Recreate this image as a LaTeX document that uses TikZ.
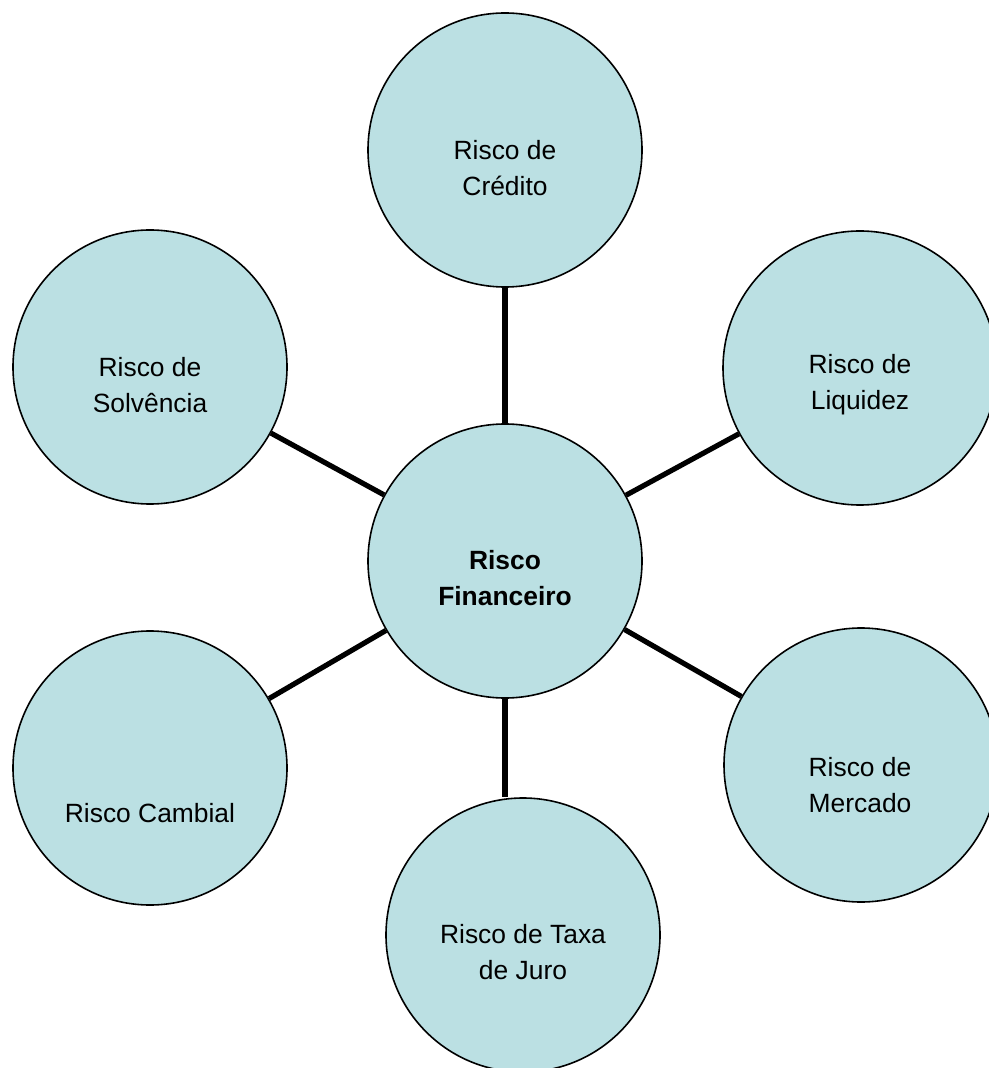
\documentclass[tikz,border=0pt]{standalone}
\usepackage{fontspec}
\setmainfont{Liberation Sans}
\usepackage{tikz}
\usepackage{xcolor}
\definecolor{riskfill}{RGB}{187,224,227}

\begin{document}
\begin{tikzpicture}[x=0.5pt,y=-0.5pt,
        risk/.style={circle,draw=black,line width=0.8pt,fill=riskfill,minimum size=137pt,inner sep=0pt},
        rtext/.style={align=center,font=\fontsize{13.2}{18}\selectfont},
        link/.style={line width=2.6pt}]
        \useasboundingbox (0,0) rectangle (988,1068);

        \node[risk] (fin) at (505,561) {};
        \node[risk] (cred) at (505,150) {};
        \node[risk] (solv) at (150,367) {};
        \node[risk] (liq) at (860,368) {};
        \node[risk] (camb) at (150,768) {};
        \node[risk] (merc) at (861,765) {};
        \node[risk] (juro) at (523,935) {};

        \node[rtext] (fin-t) at (505,578) {\textbf{Risco}\\\textbf{Financeiro}};
        \node[rtext] (cred-t) at (505,168) {Risco de\\Crédito};
        \node[rtext] (solv-t) at (150,385) {Risco de\\Solvência};
        \node[rtext] (liq-t) at (860,385) {Risco de\\Liquidez};
        \node[rtext] (camb-t) at (150,813) {Risco Cambial};
        \node[rtext] (merc-t) at (860,785) {Risco de\\Mercado};
        \node[rtext] (juro-t) at (523,952) {Risco de Taxa\\de Juro};

        \draw[link] (fin) -- (cred);
        \draw[link] (fin) -- (solv);
        \draw[link] (fin) -- (liq);
        \draw[link] (fin) -- (camb);
        \draw[link] (fin) -- (merc);
        \draw[link] (fin.south) -- (fin.south |- juro.north);
    \end{tikzpicture}
\end{document}
